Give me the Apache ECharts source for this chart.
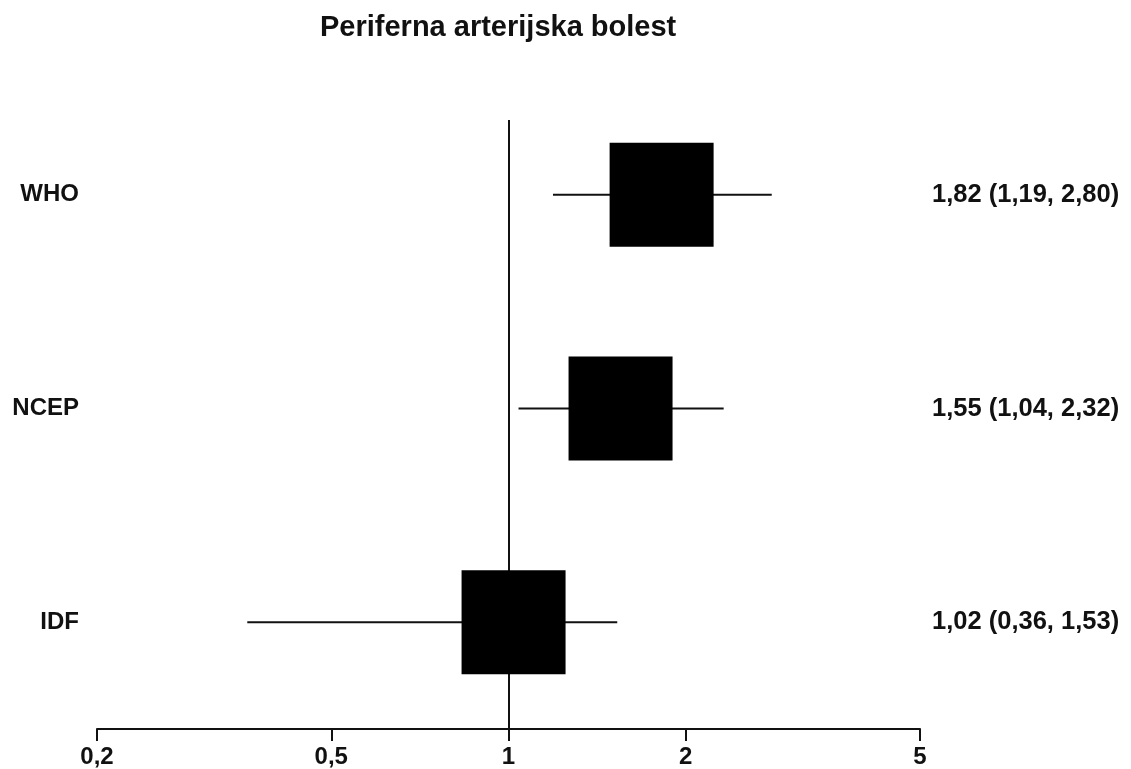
<!DOCTYPE html>
<html>
<head>
<meta charset="utf-8">
<script src="https://cdn.jsdelivr.net/npm/echarts@6/dist/echarts.min.js"></script>
<style>html,body{margin:0;padding:0;background:#fff;}#chart{width:1131px;height:769px;}</style>
</head>
<body>
<div id="chart"></div>
<script>
const titleText = 'Periferna arterijska bolest';
const categories = ['WHO', 'NCEP', 'IDF'];
const rowPos = [3, 2, 1];
const estimates = [1.82, 1.55, 1.02];
const lowerCI = [1.19, 1.04, 0.36];
const upperCI = [2.80, 2.32, 1.53];
const rightLabels = ['1,82 (1,19, 2,80)', '1,55 (1,04, 2,32)', '1,02 (0,36, 1,53)'];
const xTickValues = [0.2, 0.5, 1, 2, 5];
const xTickLabels = ['0,2', '0,5', '1', '2', '5'];

const FONT = '"Liberation Sans", Arial, sans-serif';
const leftMap = {}, rightMap = {};
rowPos.forEach((p, i) => { leftMap[p] = categories[i]; rightMap[p] = rightLabels[i]; });
const xLabelMap = {};
xTickValues.forEach((v, i) => { xLabelMap[v] = xTickLabels[i]; });

const whiskerData = rowPos.map((p, i) => [estimates[i], lowerCI[i], upperCI[i], p]);
const boxData = rowPos.map((p, i) => [estimates[i], p]);

const chart = echarts.init(document.getElementById('chart'));
chart.setOption({
  backgroundColor: '#fff',
  animation: false,
  title: {
    text: titleText,
    left: 315, top: 8,
    textStyle: { fontFamily: FONT, fontWeight: 'bold', fontSize: 29, color: '#111' }
  },
  grid: { left: 97, right: 211, top: 120, bottom: 40, containLabel: false },
  xAxis: {
    type: 'log', logBase: 10, min: 0.2, max: 5,
    axisLine: { show: true, lineStyle: { color: '#111', width: 2 } },
    axisTick: { show: true, length: 12, lineStyle: { color: '#111', width: 2 }, customValues: xTickValues },
    axisLabel: {
      customValues: xTickValues,
      formatter: v => xLabelMap[Math.round(v * 1000) / 1000] || '',
      fontFamily: FONT, fontWeight: 'bold', fontSize: 24, color: '#111', margin: 16
    },
    splitLine: { show: false }
  },
  yAxis: [
    {
      type: 'value', min: 0.5, max: 3.35, position: 'left',
      axisLine: { show: false }, axisTick: { show: false }, splitLine: { show: false },
      axisLabel: {
        customValues: rowPos,
        formatter: v => leftMap[v] || '',
        align: 'right', margin: 18,
        fontFamily: FONT, fontWeight: 'bold', fontSize: 24, color: '#111'
      }
    },
    {
      type: 'value', min: 0.5, max: 3.35, position: 'right',
      axisLine: { show: false }, axisTick: { show: false }, splitLine: { show: false },
      axisLabel: {
        customValues: rowPos,
        formatter: v => rightMap[v] || '',
        align: 'left', margin: 12,
        fontFamily: FONT, fontWeight: 'bold', fontSize: 25.5, color: '#111'
      }
    }
  ],
  series: [
    {
      type: 'custom',
      xAxisIndex: 0, yAxisIndex: 0,
      data: whiskerData,
      encode: { x: [0, 1, 2], y: 3 },
      renderItem: function (params, api) {
        const a = api.coord([api.value(1), api.value(3)]);
        const b = api.coord([api.value(2), api.value(3)]);
        return {
          type: 'line',
          shape: { x1: a[0], y1: a[1], x2: b[0], y2: b[1] },
          style: { stroke: '#111', lineWidth: 2 }
        };
      },
      z: 2,
      markLine: {
        silent: true, symbol: 'none', label: { show: false },
        lineStyle: { color: '#111', width: 2, type: 'solid' },
        data: [{ xAxis: 1 }]
      }
    },
    {
      type: 'scatter',
      xAxisIndex: 0, yAxisIndex: 0,
      data: boxData,
      symbol: 'rect',
      symbolSize: 104,
      itemStyle: { color: '#000', opacity: 1 },
      z: 5
    }
  ]
});
</script>
</body>
</html>
